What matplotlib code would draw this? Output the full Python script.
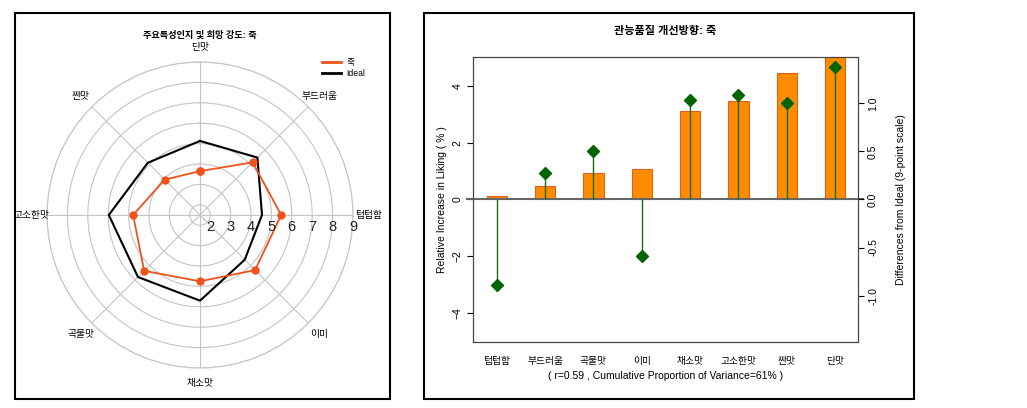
import numpy as np
import matplotlib
matplotlib.use("Agg")
import matplotlib.pyplot as plt
from matplotlib.patches import Rectangle
from matplotlib.transforms import offset_copy

plt.rcParams['font.family'] = ['Liberation Sans', 'Noto Sans CJK KR', 'DejaVu Sans']

# radar data (clockwise from top)
radar_attrs = ['단맛', '부드러움', '텁텁함', '이미', '채소맛', '곡물맛', '고소한맛', '짠맛']
juk_vals = [3.65, 5.15, 5.48, 5.32, 4.75, 5.37, 4.78, 3.95]
ideal_vals = [5.13, 5.48, 4.54, 4.60, 5.70, 5.80, 5.97, 5.12]
radar_ticks = [2, 3, 4, 5, 6, 7, 8, 9]

# improvement chart data
bar_attrs = ['텁텁함', '부드러움', '곡물맛', '이미', '채소맛', '고소한맛', '짠맛', '단맛']
liking_inc = [0.13, 0.49, 0.93, 1.08, 3.11, 3.46, 4.45, 5.2]
diff_ideal = [-0.89, 0.275, 0.50, -0.59, 1.04, 1.09, 1.00, 1.38]

W, H = 1027, 408
fig = plt.figure(figsize=(W / 100, H / 100), dpi=100)

# panel frames
for (x0, y0, x1, y1) in [(15, 13, 390, 399), (424, 13, 914, 399)]:
    fig.add_artist(Rectangle((x0 / W, 1 - y1 / H), (x1 - x0) / W, (y1 - y0) / H,
                             transform=fig.transFigure, fill=False,
                             edgecolor='black', lw=1.5))

# ---------- radar ----------
R = 153
cx, cy = 200, 215
ax = fig.add_axes([(cx - R) / W, (H - cy - R) / H, 2 * R / W, 2 * R / H],
                  projection='polar')
ax.set_theta_zero_location('N')
ax.set_theta_direction(-1)
ax.set_ylim(1.5, 9)
n = len(radar_attrs)
theta = np.arange(n) * 2 * np.pi / n
ax.set_thetagrids(np.degrees(theta), labels=[])
ax.set_rgrids(radar_ticks, labels=[])
ax.grid(True, color='#c4c4c4', lw=0.8)
ax.spines['polar'].set_color('#c4c4c4')
ax.spines['polar'].set_linewidth(0.8)
ax.patch.set_alpha(0)

th_c = np.append(theta, theta[0])
l_ideal, = ax.plot(th_c, ideal_vals + ideal_vals[:1], color='black', lw=1.5, label='Ideal')
l_juk, = ax.plot(th_c, juk_vals + juk_vals[:1], color='#f0521c', lw=1.3,
                 marker='o', ms=5, label='죽')

for t, name in zip(theta, radar_attrs):
    ax.text(t, 9.75, name, ha='center', va='center', fontsize=7, clip_on=False)

tr = offset_copy(ax.transData, fig=fig, y=-12, units='dots')
for r in radar_ticks:
    ax.text(np.pi / 2, r, str(r), transform=tr, ha='center', va='center',
            fontsize=10.5, color='#222222')

fig.text(200 / W, 1 - 35 / H, '주요특성인지 및 희망 강도: 죽', ha='center', va='center',
         fontsize=6.6, fontweight='bold')
fig.legend(handles=[l_juk, l_ideal], labels=['죽', 'Ideal'], loc='center left',
           bbox_to_anchor=(318 / W, 1 - 68 / H), frameon=False, fontsize=6.2,
           handlelength=2.2, handletextpad=0.6, labelspacing=0.2, borderpad=0)
for h in fig.legends[0].get_lines():
    h.set_marker('')
    h.set_linewidth(2)

# ---------- bars ----------
ax1 = fig.add_axes([472.7 / W, (H - 341.7) / H, 385 / W, 284.4 / H])
x = np.arange(len(bar_attrs))
ax1.bar(x, liking_inc, width=0.42, color='#ff8c00', edgecolor='#e0601a', lw=0.8, zorder=2)
ax1.axhline(0, xmin=-0.015, xmax=1.015, color='#666666', lw=1.5, clip_on=False, zorder=3)
ax1.set_xlim(-0.5, 7.47)
ax1.set_ylim(-5, 5)
ax1.set_yticks([-4, -2, 0, 2, 4])
ax1.set_xticks(x)
ax1.set_xticklabels(bar_attrs, fontsize=7)
ax1.tick_params(axis='x', length=0, pad=10)
ax1.tick_params(axis='y', labelsize=7.5, labelrotation=90, length=4)
for lab in ax1.get_yticklabels():
    lab.set_va('center')
ax1.set_ylabel('Relative Increase in Liking ( % )', fontsize=7.5, labelpad=4)
ax1.set_xlabel('( r=0.59 , Cumulative Proportion of Variance=61% )', fontsize=7.5, labelpad=4)
ax1.set_title('관능품질 개선방향: 죽', fontsize=8, fontweight='bold', pad=17)
for s in ax1.spines.values():
    s.set_color('#444444')

ax2 = ax1.twinx()
ax2.set_ylim(-1.48, 1.48)
ax2.set_yticks([-1.0, -0.5, 0.0, 0.5, 1.0])
ax2.set_yticklabels(['-1.0', '-0.5', '0.0', '0.5', '1.0'])
ax2.vlines(x, 0, diff_ideal, color='#1a6b1a', lw=1.0, zorder=4)
ax2.plot(x, diff_ideal, linestyle='none', marker='D', ms=6, color='#006400', zorder=5)
ax2.tick_params(axis='y', labelsize=7.5, labelrotation=90, length=4)
for lab in ax2.get_yticklabels():
    lab.set_va('center')
ax2.set_ylabel('Differences from Ideal (9-point scale)', fontsize=7.5, labelpad=6)
ax2.yaxis.set_label_coords(1.1, 0.5)
for s in ax2.spines.values():
    s.set_color('#444444')

fig.savefig('out.png', dpi=100)
